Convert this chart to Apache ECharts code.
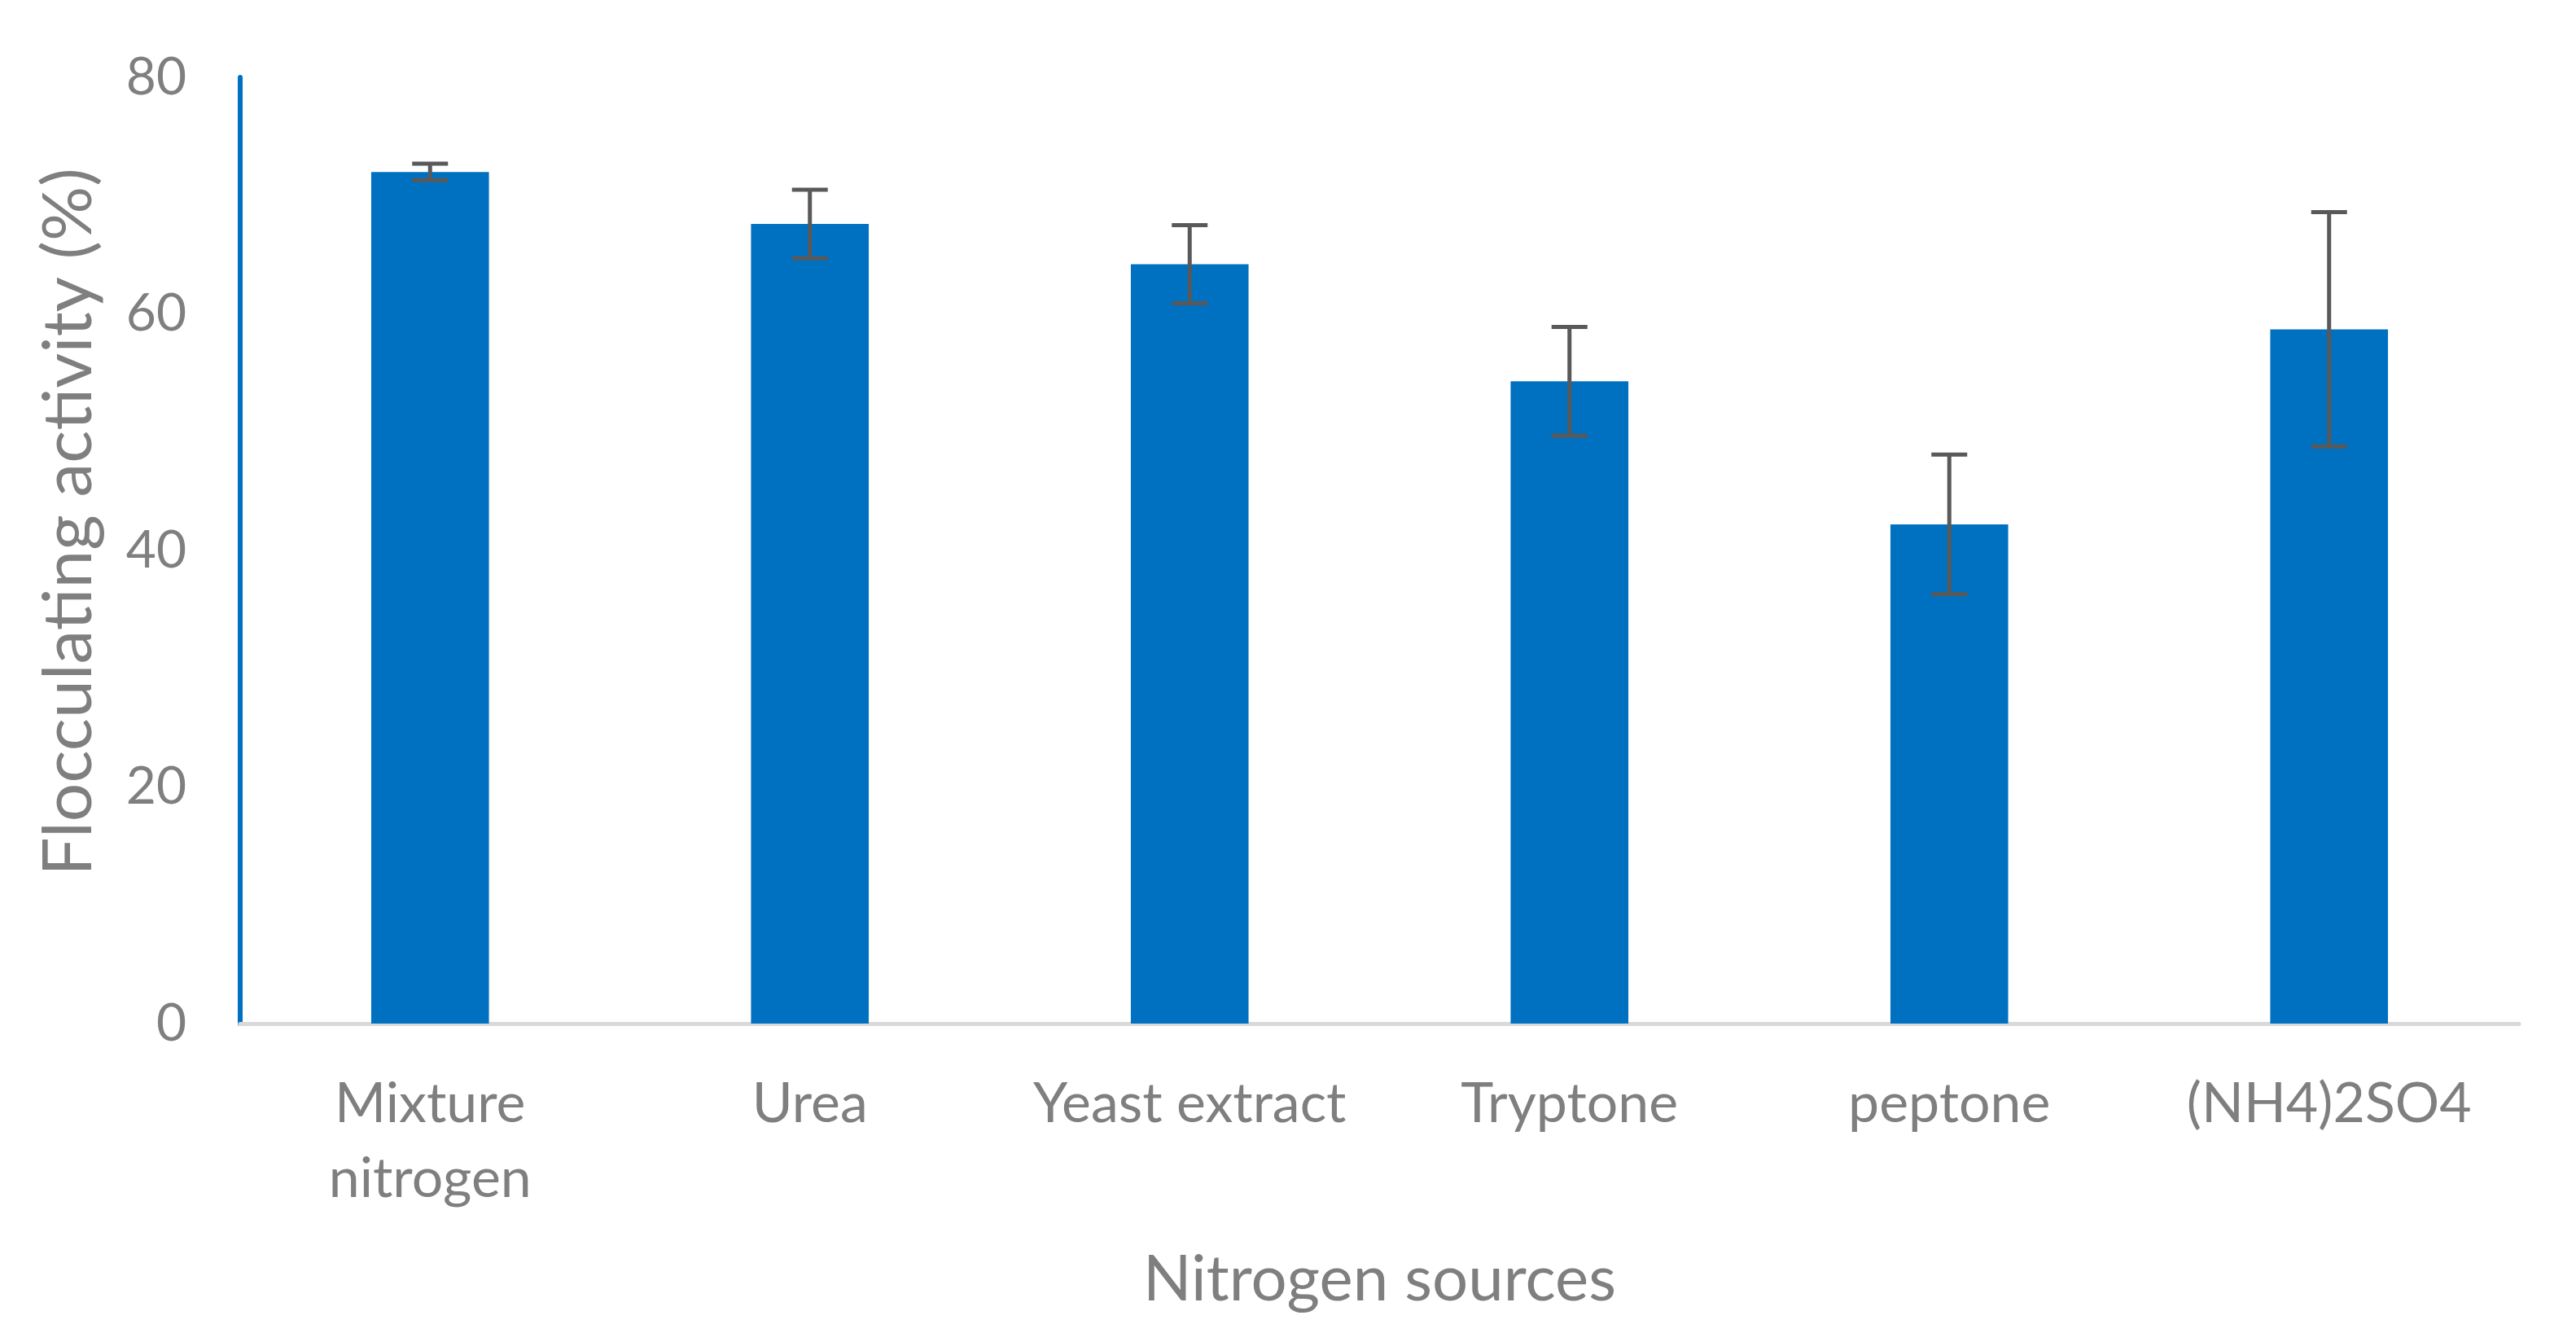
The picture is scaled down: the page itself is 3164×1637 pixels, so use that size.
<!DOCTYPE html>
<html>
<head>
<meta charset="utf-8">
<script src="https://cdn.jsdelivr.net/npm/echarts@6/dist/echarts.min.js"></script>
<style>
  html, body { margin: 0; padding: 0; background: #fff; }
  #chart { width: 3164px; height: 1637px; }
</style>
</head>
<body>
<div id="chart"></div>
<script>
var categories = ['Mixture nitrogen', 'Urea', 'Yeast extract', 'Tryptone', 'peptone', '(NH4)2SO4'];
var activity = [72.0, 67.6, 64.2, 54.3, 42.2, 58.7];
var errors = [0.7, 2.9, 3.3, 4.6, 5.9, 9.9];
var yTicks = [0, 20, 40, 60, 80];

(function () {
    var chart = echarts.init(document.getElementById('chart'));
    var font = 'Lato';

    // low / high ends of each error bar
    var errData = activity.map(function (v, i) {
        return [i, v - errors[i], v + errors[i]];
    });

    function renderErr(params, api) {
        var x = api.value(0);
        var lo = api.coord([x, api.value(1)]);
        var hi = api.coord([x, api.value(2)]);
        var cap = 22;
        var style = { stroke: '#595959', lineWidth: 5 };
        return {
            type: 'group',
            children: [
                { type: 'line', shape: { x1: lo[0], y1: lo[1], x2: hi[0], y2: hi[1] }, style: style },
                { type: 'line', shape: { x1: hi[0] - cap, y1: hi[1], x2: hi[0] + cap, y2: hi[1] }, style: style },
                { type: 'line', shape: { x1: lo[0] - cap, y1: lo[1], x2: lo[0] + cap, y2: lo[1] }, style: style }
            ]
        };
    }

    chart.setOption({
        animation: false,
        grid: { left: 295, right: 70, top: 95, bottom: 380 },
        xAxis: {
            type: 'category',
            data: categories,
            name: 'Nitrogen sources',
            nameLocation: 'middle',
            nameGap: 276,
            nameTextStyle: { color: '#7f7f7f', fontSize: 78, fontFamily: font },
            axisLine: { lineStyle: { color: '#d9d9d9', width: 5 } },
            axisTick: { show: false },
            axisLabel: {
                color: '#7f7f7f',
                fontSize: 68,
                fontFamily: font,
                margin: 53,
                lineHeight: 92,
                interval: 0,
                formatter: function (v) { return v.replace('Mixture ', 'Mixture\n'); }
            }
        },
        yAxis: {
            type: 'value',
            min: yTicks[0],
            max: yTicks[yTicks.length - 1],
            interval: 20,
            name: 'Flocculating activity (%)',
            nameLocation: 'middle',
            nameGap: 168,
            nameTextStyle: { color: '#7f7f7f', fontSize: 84, fontFamily: font, padding: [0, 0, 0, 70] },
            axisLine: { show: true, lineStyle: { color: '#0070c0', width: 6 } },
            axisTick: { show: false },
            splitLine: { show: false },
            axisLabel: { color: '#7f7f7f', fontSize: 64, fontFamily: font, margin: 66 }
        },
        series: [{
            type: 'bar',
            data: activity,
            barWidth: '31%',
            itemStyle: { color: '#0070c0' }
        }, {
            type: 'custom',
            data: errData,
            renderItem: renderErr,
            z: 10
        }]
    });
})();
</script>
</body>
</html>
